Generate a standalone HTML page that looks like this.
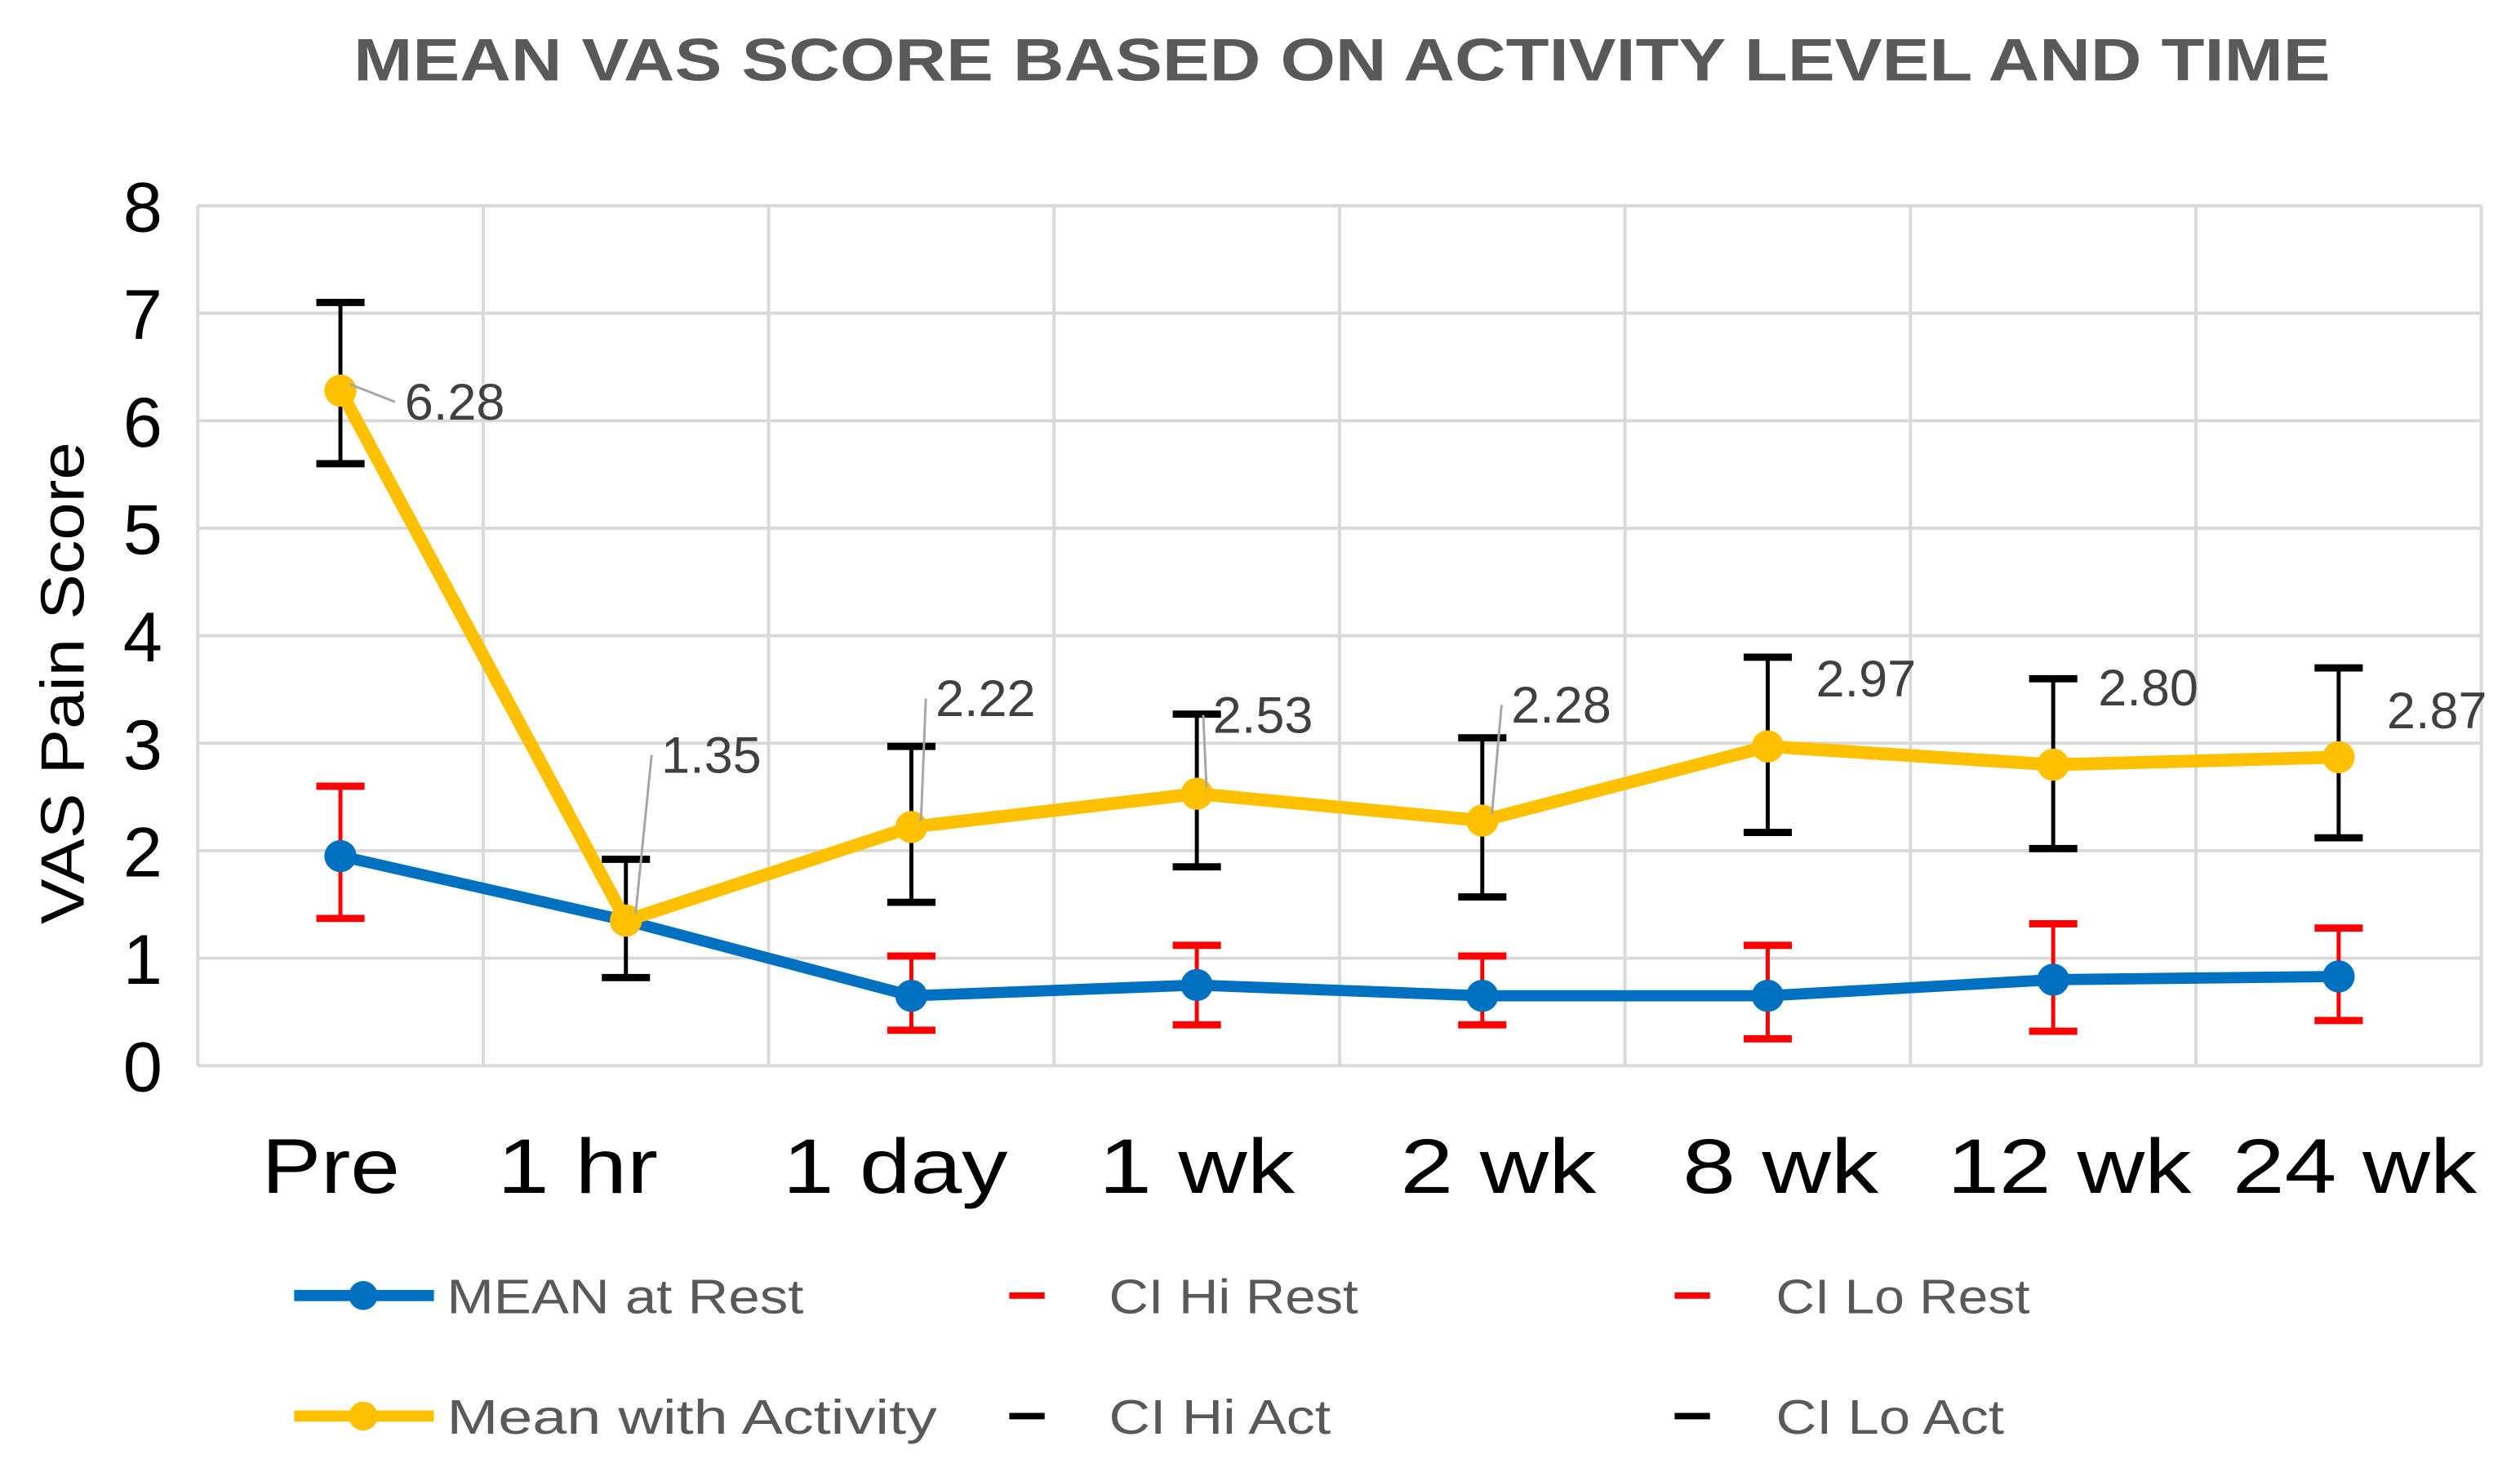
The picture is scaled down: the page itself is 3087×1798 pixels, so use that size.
<!DOCTYPE html>
<html><head><meta charset="utf-8"><style>
html,body{margin:0;padding:0;background:#fff;}
svg{display:block;font-family:"Liberation Sans",sans-serif;}
</style></head><body>
<svg id="chart" width="3087" height="1798" viewBox="0 0 1568 913.3" xmlns="http://www.w3.org/2000/svg">
<rect x="0" y="0" width="1568" height="914" fill="#fff"/>
<text x="220" y="50" textLength="1230" lengthAdjust="spacingAndGlyphs" font-size="37" font-weight="bold" fill="#595959">MEAN VAS SCORE BASED ON ACTIVITY LEVEL AND TIME</text>
<text transform="translate(52,425) rotate(-90)" text-anchor="middle" font-size="38" textLength="300" lengthAdjust="spacingAndGlyphs" fill="#000">VAS Pain Score</text>
<g id="grid"></g>
<g id="axes"></g>
<g id="marks"></g>
<g id="legend">
  <line x1="183" y1="806" x2="270" y2="806" stroke="#0070C0" stroke-width="7"/>
  <circle cx="226" cy="806" r="9" fill="#0070C0"/>
  <text x="278" y="817" font-size="30" textLength="222" lengthAdjust="spacingAndGlyphs" fill="#595959">MEAN at Rest</text>
  <line x1="183" y1="881" x2="270" y2="881" stroke="#FFC000" stroke-width="7"/>
  <circle cx="226" cy="881" r="9" fill="#FFC000"/>
  <text x="278" y="892" font-size="30" textLength="305" lengthAdjust="spacingAndGlyphs" fill="#595959">Mean with Activity</text>
  <line x1="628" y1="806" x2="650" y2="806" stroke="#FF0000" stroke-width="4"/>
  <text x="690" y="817" font-size="30" textLength="155" lengthAdjust="spacingAndGlyphs" fill="#595959">CI Hi Rest</text>
  <line x1="628" y1="881" x2="650" y2="881" stroke="#000" stroke-width="4"/>
  <text x="690" y="892" font-size="30" textLength="138" lengthAdjust="spacingAndGlyphs" fill="#595959">CI Hi Act</text>
  <line x1="1042" y1="806" x2="1064" y2="806" stroke="#FF0000" stroke-width="4"/>
  <text x="1105" y="817" font-size="30" textLength="158" lengthAdjust="spacingAndGlyphs" fill="#595959">CI Lo Rest</text>
  <line x1="1042" y1="881" x2="1064" y2="881" stroke="#000" stroke-width="4"/>
  <text x="1105" y="892" font-size="30" textLength="142" lengthAdjust="spacingAndGlyphs" fill="#595959">CI Lo Act</text>
</g>
</svg>
<script>
const categories = ["Pre","1 hr","1 day","1 wk","2 wk","8 wk","12 wk","24 wk"];
const meanRest = [1.95,1.35,0.65,0.75,0.65,0.65,0.80,0.83];
const ciHiRest = [2.6,null,1.02,1.12,1.02,1.12,1.32,1.28];
const ciLoRest = [1.37,null,0.33,0.38,0.38,0.25,0.32,0.42];
const meanAct = [6.28,1.35,2.22,2.53,2.28,2.97,2.80,2.87];
const ciHiAct = [7.1,1.92,2.97,3.27,3.05,3.8,3.6,3.7];
const ciLoAct = [5.6,0.82,1.52,1.85,1.57,2.17,2.02,2.12];
const actLabels = ["6.28","1.35","2.22","2.53","2.28","2.97","2.80","2.87"];
const yTicks = [0,1,2,3,4,5,6,7,8];

const NS="http://www.w3.org/2000/svg";
const L=123,R=1544,T=128,B=663,yMax=8;
const bw=(R-L)/categories.length;
const x=i=>L+bw*(i+0.5);
const y=v=>B-(v/yMax)*(B-T);
function mk(tag,attrs,parent,text){const e=document.createElementNS(NS,tag);for(const k in attrs)e.setAttribute(k,attrs[k]);if(text!==undefined)e.textContent=text;parent.appendChild(e);return e;}
const grid=document.getElementById('grid'),axes=document.getElementById('axes'),marks=document.getElementById('marks');
yTicks.forEach(t=>{
  const g=mk('line',{x1:L,x2:R,y1:y(t),y2:y(t),stroke:'#d9d9d9','stroke-width':2},grid);
  
  
  const tl=mk('text',{x:101,y:y(t)+16,'text-anchor':'end','font-size':44,fill:'#000'},axes,String(t));
  
  
});
for(let i=0;i<=categories.length;i++){
  const g=mk('line',{x1:L+bw*i,x2:L+bw*i,y1:T,y2:B,stroke:'#d9d9d9','stroke-width':2},grid);
  
  
}
const xLblW=[86,100,140,122,122,122,152,152];
categories.forEach((c,i)=>{
  const t=mk('text',{x:x(i)-(i==7?-10:0)-(i==0?6:0)-(i==1?30:0)-(i==2?10:0)+(i==4?10:0)+(i==5?8:0)+(i==6?10:0),y:742,'text-anchor':'middle','font-size':48,textLength:xLblW[i],lengthAdjust:'spacingAndGlyphs',fill:'#000'},axes,c);
  
  
});
function errbar(i,hi,lo,col,name){
  if(hi==null)return;
  const g=mk('g',{},marks);
  
  
  mk('line',{x1:x(i),x2:x(i),y1:y(hi),y2:y(lo),stroke:col,'stroke-width':2.5},g);
  mk('line',{x1:x(i)-15,x2:x(i)+15,y1:y(hi),y2:y(hi),stroke:col,'stroke-width':4.5},g);
  mk('line',{x1:x(i)-15,x2:x(i)+15,y1:y(lo),y2:y(lo),stroke:col,'stroke-width':4.5},g);
}
categories.forEach((c,i)=>{errbar(i,ciHiRest[i],ciLoRest[i],'#FF0000','error-bar-rest');});
categories.forEach((c,i)=>{errbar(i,ciHiAct[i],ciLoAct[i],'#000','error-bar-activity');});
function series(vals,col,w,name){
  const p=mk('polyline',{points:vals.map((v,i)=>x(i)+','+y(v)).join(' '),fill:'none',stroke:col,'stroke-width':w,'stroke-linejoin':'round'},marks);
  
  
  vals.forEach((v,i)=>{
    const c=mk('circle',{cx:x(i),cy:y(v),r:10,fill:col},marks);
    
    
  });
}
series(meanRest,'#0070C0',7,'mean-rest');
series(meanAct,'#FFC000',8,'mean-activity');
const lblOff=[[40,7],[22,-103],[15,-80],[10,-49],[18,-72],[30,-42],[28,-48],[30,-29]];
meanAct.forEach((v,i)=>{
  const lx=x(i)+lblOff[i][0],ly=y(v)+lblOff[i][1];
  const t=mk('text',{x:lx,y:ly+11,'font-size':32,fill:'#404040'},marks,actLabels[i]);
  
  
  if(i<5){
    const ll=mk('polyline',{points:[x(i)+6,y(v)-4,lx-6,ly].join(','),fill:'none',stroke:'#a6a6a6','stroke-width':1.5},marks);
    
    
  }
});
</script>
</body></html>
